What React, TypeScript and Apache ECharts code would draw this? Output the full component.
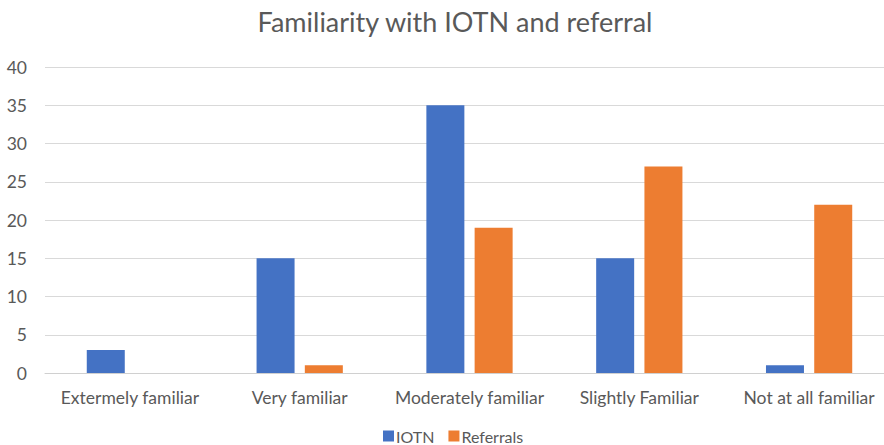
import React, { useEffect, useRef } from "react";
import * as echarts from "echarts";

const categories = ["Extermely familiar", "Very familiar", "Moderately familiar", "Slightly Familiar", "Not at all familiar"];
const iotn = [3, 15, 35, 15, 1];
const referrals = [0, 1, 19, 27, 22];
const seriesNames = ["IOTN", "Referrals"];
const titleText = "Familiarity with IOTN and referral";

const FONT = "Lato, 'Noto Sans', sans-serif";
const TXT = "#595959";

export default function App() {
  const ref = useRef<HTMLDivElement>(null);
  useEffect(() => {
    const chart = echarts.init(ref.current!, null, { renderer: "svg" });
    chart.setOption({
      animation: false,
      textStyle: { fontFamily: FONT },
      title: {
        text: titleText,
        left: 455,
        top: 8,
        padding: 0,
        textAlign: "center",
        textStyle: { fontFamily: FONT, fontSize: 27, fontWeight: "normal", color: TXT },
      },
      legend: {
        top: 428,
        left: 383,
        padding: 0,
        itemWidth: 11,
        itemHeight: 11,
        itemGap: 14,
        icon: "rect",
        textStyle: { fontFamily: FONT, fontSize: 16, lineHeight: 16, color: TXT, padding: [0, 0, 0, -3] },
        data: seriesNames,
      },
      grid: { left: 45, right: 0, top: 67, bottom: 72, containLabel: false },
      xAxis: {
        type: "category",
        data: categories,
        axisTick: { show: false },
        axisLine: { lineStyle: { color: "#d0d0d0", width: 1 } },
        axisLabel: { color: TXT, fontSize: 17.5, fontFamily: FONT, margin: 15, interval: 0 },
      },
      yAxis: {
        type: "value",
        min: 0,
        max: 40,
        interval: 5,
        axisLine: { show: false },
        axisTick: { show: false },
        splitLine: { lineStyle: { color: "#d9d9d9", width: 1 } },
        axisLabel: { color: TXT, fontSize: 17.5, fontFamily: FONT, margin: 18 },
      },
      series: [
        {
          name: seriesNames[0],
          type: "bar",
          data: iotn,
          barWidth: 38,
          barGap: "27%",
          itemStyle: { color: "#4472c4" },
        },
        {
          name: seriesNames[1],
          type: "bar",
          data: referrals,
          barWidth: 38,
          itemStyle: { color: "#ed7d31" },
        },
      ],
    });
    return () => chart.dispose();
  }, []);
  return (
    <div style={{ position: "fixed", left: 0, top: 0, width: 884, height: 445, background: "#fff", overflow: "hidden" }}>
      <div ref={ref} style={{ width: 894, height: 445 }} />
    </div>
  );
}
